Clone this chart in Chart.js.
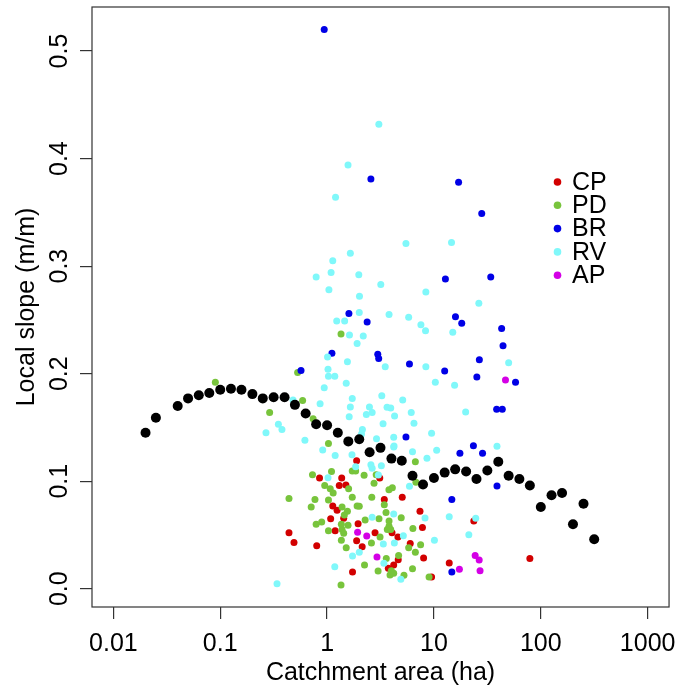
<!DOCTYPE html>
<html>
<head>
<meta charset="utf-8">
<script src="https://cdn.jsdelivr.net/npm/chart.js@4.4.0/dist/chart.umd.min.js"></script>
<style>
  html, body { margin: 0; padding: 0; background: #fff; }
  #myChart { display: block; }
</style>
</head>
<body>
<canvas id="myChart" width="686" height="694"></canvas>
<script>
const areaTicks = [0.01, 0.1, 1, 10, 100, 1000];
const slopeTicks = [0, 0.1, 0.2, 0.3, 0.4, 0.5];
const groups = ['CP', 'PD', 'BR', 'RV', 'AP'];
const colors = ['#d20000', '#78c43c', '#0000e6', '#80f8fa', '#d400e6'];

// CP
const cpArea = [1.89, 0.85, 1.37, 3.11, 1.30, 1.50, 3.43, 1.13, 1.24, 1.08, 1.43, 1.95, 1.19, 2.81, 0.44, 0.49, 0.80,
  1.89, 2.13, 1.73, 5.05, 7.4, 23.6, 7.8, 4.05, 4.6, 6.0, 4.63, 8.0, 79, 13.9, 3.74, 4.2, 9.5];
const cpSlope = [0.119, 0.103, 0.103, 0.103, 0.096, 0.0965, 0.083, 0.077, 0.073, 0.065, 0.0655, 0.0605, 0.054, 0.052, 0.052, 0.043, 0.040,
  0.0447, 0.039, 0.0155, 0.085, 0.072, 0.063, 0.057, 0.052, 0.048, 0.042, 0.027, 0.0286, 0.028, 0.024, 0.019, 0.022, 0.011];

// PD
const pdArea = [0.53, 1.35, 0.59, 0.09, 0.29, 0.74, 1.03, 0.73, 1.10, 1.72, 1.85, 2.22, 2.88, 0.95, 1.07, 1.14, 1.59, 2.75,
  0.44, 0.77, 1.03, 1.72, 2.62, 0.71, 1.38, 1.91, 2.0, 1.55, 1.45, 3.43, 3.56, 2.27, 3.06, 0.79, 0.89, 1.57, 1.03, 1.38,
  1.43, 3.66, 1.36, 2.6, 3.13, 1.51, 3.58, 2.24, 3.0, 1.35, 3.79, 4.08, 6.7, 6.78, 4.94, 3.8, 6.35, 3.8, 3.94, 5.8, 6.7,
  7.5, 4.67, 6.3, 5.24, 3.99, 3.88, 4.2, 9.0, 1.36];
const pdSlope = [0.201, 0.237, 0.175, 0.192, 0.164, 0.158, 0.135, 0.106, 0.109, 0.1095, 0.1095, 0.1055, 0.106, 0.096, 0.093, 0.089, 0.093, 0.098,
  0.084, 0.083, 0.0825, 0.085, 0.085, 0.076, 0.076, 0.077, 0.0766, 0.072, 0.0686, 0.078, 0.071, 0.064, 0.065, 0.060, 0.062, 0.059, 0.054, 0.055,
  0.0515, 0.055, 0.045, 0.0425, 0.048, 0.038, 0.028, 0.022, 0.0165, 0.0034, 0.092, 0.094, 0.118, 0.099, 0.066, 0.063, 0.056, 0.058, 0.055, 0.038, 0.034,
  0.041, 0.031, 0.0186, 0.0125, 0.0167, 0.0127, 0.0143, 0.011, 0.060];

// BR
const brArea = [0.94, 2.57, 17.0, 28.0, 12.8, 34, 1.6, 15.9, 2.37, 1.11, 2.98, 3.04, 0.57, 18.2, 43, 44.3, 5.9, 26.6,
  12.6, 25.2, 58, 38.6, 43.6, 5.47, 23.4, 17.5, 28.5, 14.7, 38.9, 14.7];
const brSlope = [0.520, 0.381, 0.378, 0.349, 0.288, 0.290, 0.256, 0.253, 0.248, 0.219, 0.218, 0.214, 0.203, 0.247, 0.242, 0.226, 0.209, 0.213,
  0.2025, 0.197, 0.192, 0.167, 0.167, 0.141, 0.133, 0.126, 0.126, 0.083, 0.0955, 0.0155];

// RV
const rvArea = [3.05, 1.57, 1.2, 1.65, 1.13, 1.09, 0.79, 1.98, 3.18, 1.04, 2.01, 2.0, 3.8, 5.47, 14.6, 8.4, 26.3, 5.8,
  1.23, 1.46, 1.62, 2.18, 1.91, 1.01, 1.55, 1.02, 3.5, 1.03, 1.18, 1.51, 0.94, 1.72, 3.25, 1.65, 0.86, 0.48, 0.268, 0.35,
  0.378, 0.62, 2.49, 2.64, 2.33, 3.64, 3.34, 2.14, 2.1, 0.91, 1.19, 1.71, 2.9, 1.85, 2.57, 2.64, 3.22, 3.02, 1.02, 2.64,
  3.36, 2.0, 1.73, 1.18, 0.34, 3.4, 3.94, 4.28, 4.23, 1.61, 6.13, 19.8, 6.5, 9.5, 6.3, 10.6, 38.9, 8.6, 5.9, 7.55, 8.34,
  15, 8.4, 50, 10.3, 15.6, 5.1, 4.2, 4.2, 8.25, 13.9, 24.6, 5.17, 4.26, 10.1, 21.2, 4.9, 4.2];
const rvSlope = [0.432, 0.394, 0.364, 0.312, 0.305, 0.294, 0.290, 0.292, 0.283, 0.278, 0.272, 0.257, 0.255, 0.321, 0.322, 0.276, 0.2655, 0.2525,
  0.249, 0.249, 0.236, 0.235, 0.228, 0.2155, 0.211, 0.204, 0.2065, 0.1975, 0.1975, 0.191, 0.187, 0.177, 0.1795, 0.169, 0.172, 0.1755, 0.145, 0.153,
  0.148, 0.138, 0.169, 0.164, 0.162, 0.1687, 0.1535, 0.148, 0.144, 0.129, 0.124, 0.1247, 0.1395, 0.1135, 0.1153, 0.112, 0.1144, 0.1058, 0.1033, 0.0664,
  0.0416, 0.0339, 0.0304, 0.0205, 0.0047, 0.0236, 0.168, 0.1606, 0.1327, 0.160, 0.164, 0.1644, 0.154, 0.1446, 0.1274, 0.1287, 0.1325, 0.1213, 0.0953, 0.2456, 0.240,
  0.2385, 0.2065, 0.2102, 0.192, 0.1892, 0.1755, 0.1408, 0.1318, 0.0658, 0.067, 0.0655, 0.0493, 0.0425, 0.045, 0.0502, 0.0087, 0.0695];

// AP
const apArea = [1.93, 2.35, 2.93, 46.7, 24.3, 26.5, 17.3, 27];
const apSlope = [0.0525, 0.049, 0.0295, 0.194, 0.031, 0.0267, 0.018, 0.0167];

// binned means (black)
const binArea = [0.02, 0.025, 0.04, 0.05, 0.063, 0.079, 0.1, 0.126, 0.158, 0.2, 0.25, 0.316, 0.4, 0.5, 0.63, 0.79, 1, 1.26,
  1.58, 2, 2.5, 3.16, 4, 5, 6.3, 7.9, 10, 12.6, 15.8, 20, 25, 31.6, 40, 50, 63, 79, 100, 126, 158, 200, 251, 316];
const binSlope = [0.145, 0.159, 0.170, 0.177, 0.180, 0.182, 0.185, 0.186, 0.185, 0.181, 0.177, 0.178, 0.178, 0.171, 0.163, 0.153, 0.152, 0.145,
  0.137, 0.139, 0.127, 0.131, 0.121, 0.119, 0.105, 0.097, 0.103, 0.108, 0.111, 0.109, 0.102, 0.110, 0.118, 0.105, 0.102, 0.096, 0.076, 0.087,
  0.089, 0.060, 0.079, 0.046];

const groupArea = [cpArea, pdArea, brArea, rvArea, apArea];
const groupSlope = [cpSlope, pdSlope, brSlope, rvSlope, apSlope];

const fontFamily = '"Liberation Sans", Arial, Helvetica, sans-serif';

function toPoints(xs, ys) {
  return xs.map(function(x, i) { return { x: x, y: ys[i] }; });
}

const datasets = [{
  label: 'mean',
  data: toPoints(binArea, binSlope),
  backgroundColor: '#000',
  pointRadius: 5,
  pointBorderWidth: 0,
  order: 0
}];

groups.forEach(function(g, i) {
  datasets.push({
    label: g,
    data: toPoints(groupArea[i], groupSlope[i]),
    backgroundColor: colors[i],
    pointRadius: 3.5,
    pointBorderWidth: 0,
    order: 10 - i
  });
});

// box, rotated y labels, titles and legend
const decorPlugin = {
  id: 'decor',
  afterDraw: function(chart) {
    const ctx = chart.ctx;
    const a = chart.chartArea;
    const yScale = chart.scales.y;
    ctx.save();
    ctx.strokeStyle = '#333';
    ctx.lineWidth = 1.2;
    ctx.strokeRect(a.left, a.top, a.right - a.left, a.bottom - a.top);

    ctx.fillStyle = '#000';
    ctx.font = '25px ' + fontFamily;
    ctx.textAlign = 'center';
    ctx.textBaseline = 'alphabetic';
    slopeTicks.forEach(function(v) {
      const py = yScale.getPixelForValue(v);
      ctx.save();
      ctx.translate(67, py);
      ctx.rotate(-Math.PI / 2);
      ctx.fillText(v.toFixed(1), 0, 0);
      ctx.restore();
    });

    ctx.save();
    ctx.translate(34, (a.top + a.bottom) / 2);
    ctx.rotate(-Math.PI / 2);
    ctx.fillText('Local slope (m/m)', 0, 0);
    ctx.restore();

    ctx.textBaseline = 'top';
    ctx.fillText('Catchment area (ha)', (a.left + a.right) / 2, 661);

    ctx.textAlign = 'left';
    ctx.textBaseline = 'middle';
    groups.forEach(function(g, i) {
      const ly = 182 + i * 23.3;
      ctx.fillStyle = colors[i];
      ctx.beginPath();
      ctx.arc(557.5, ly, 3.8, 0, Math.PI * 2);
      ctx.fill();
      ctx.fillStyle = '#000';
      ctx.fillText(g, 572, ly + 1);
    });
    ctx.restore();
  }
};

const config = {
  type: 'scatter',
  data: { datasets: datasets },
  options: {
    responsive: false,
    animation: false,
    devicePixelRatio: 1,
    layout: { padding: { left: 0, right: 14, top: 7, bottom: 0 } },
    plugins: {
      legend: { display: false },
      tooltip: { enabled: false }
    },
    scales: {
      x: {
        type: 'logarithmic',
        min: Math.pow(10, -2.2),
        max: Math.pow(10, 3.2),
        afterBuildTicks: function(s) {
          s.ticks = areaTicks.map(function(v) { return { value: v }; });
        },
        afterFit: function(s) { s.height = 87; },
        ticks: {
          callback: function(v) { return String(v); },
          font: { family: fontFamily, size: 25 },
          color: '#000',
          padding: 10,
          maxRotation: 0,
          minRotation: 0,
          autoSkip: false
        },
        grid: { drawOnChartArea: false, drawTicks: true, tickLength: 12, color: '#333', lineWidth: 1.2 },
        border: { display: false }
      },
      y: {
        type: 'linear',
        min: -0.017,
        max: 0.541,
        afterBuildTicks: function(s) {
          s.ticks = slopeTicks.map(function(v) { return { value: v }; });
        },
        afterFit: function(s) { s.width = 92; },
        ticks: { display: false },
        grid: { drawOnChartArea: false, drawTicks: true, tickLength: 12, color: '#333', lineWidth: 1.2 },
        border: { display: false }
      }
    }
  },
  plugins: [decorPlugin]
};

var myChart = new Chart(
  document.getElementById('myChart'),
  config
);
</script>
</body>
</html>
